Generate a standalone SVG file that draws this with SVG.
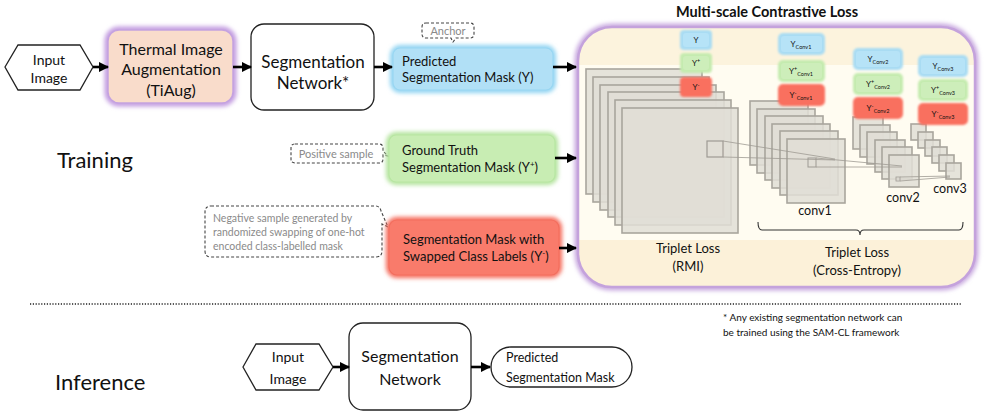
<svg xmlns="http://www.w3.org/2000/svg" width="984" height="413" viewBox="0 0 984 413">
  <style>
    text { font-family: Lato, "Open Sans", "Liberation Sans", sans-serif; fill: #111; }
    .c { text-anchor: middle; }
    .plain { fill: #ffffff; stroke: #222; stroke-width: 1.3; }
    .conn { stroke: #000; stroke-width: 2.6; fill: none; marker-end: url(#ah); }
    .callout { fill: #fff; stroke: #444; stroke-width: 1.1; stroke-dasharray: 3 2; }
    .note { fill: #8a8a8a; }
    .sheet { fill: #e1ded6; fill-opacity: 0.85; stroke: #a9a59d; stroke-width: 1.6; }
    .ray { stroke: #9e9a93; stroke-width: 0.8; fill: none; }
    .tag { font-size: 8px; }
    .sub { font-size: 5.5px; }
  </style>
  <defs>
    <marker id="ah" viewBox="0 0 10 10" refX="9" refY="5" markerWidth="4" markerHeight="4" orient="auto" markerUnits="strokeWidth">
      <path d="M0,0 L10,5 L0,10 z" fill="#000"/>
    </marker>
    <filter id="glow" x="-20%" y="-20%" width="140%" height="140%">
      <feGaussianBlur stdDeviation="2.2"/>
    </filter>
    <filter id="soft" x="-30%" y="-30%" width="160%" height="160%">
      <feGaussianBlur stdDeviation="1.2"/>
    </filter>
    <clipPath id="lossClip">
      <rect x="578" y="27" width="397" height="260" rx="34"/>
    </clipPath>
  </defs>

  <!-- Section labels -->
  <text x="57" y="168" font-size="22">Training</text>
  <text x="55" y="390" font-size="22">Inference</text>

  <!-- Training pipeline -->
  <g id="input-image">
    <polygon class="plain" points="5,67 18,45 80,45 93,67 80,90 18,90"/>
    <text class="c" x="49" y="65" font-size="14">Input</text>
    <text class="c" x="49" y="83" font-size="14">Image</text>
  </g>

  <g id="tiaug">
    <rect x="108" y="30" width="125" height="73" rx="11" fill="none" stroke="#c29be0" stroke-width="7" filter="url(#glow)"/>
    <rect x="108" y="30" width="125" height="73" rx="11" fill="#f9dccb" stroke="#c4a2e0" stroke-width="1.5"/>
    <text class="c" x="171" y="55" font-size="16">Thermal Image</text>
    <text class="c" x="171" y="75" font-size="16">Augmentation</text>
    <text class="c" x="171" y="96" font-size="16">(TiAug)</text>
  </g>

  <g id="seg-net">
    <rect class="plain" x="251" y="24" width="123" height="86" rx="13"/>
    <text class="c" x="313" y="68" font-size="17">Segmentation</text>
    <text class="c" x="313" y="89" font-size="17">Network*</text>
  </g>

  <g id="anchor-note">
    <path class="callout" d="M426,23 H470 Q474,23 474,27 V34 Q474,38 470,38 H456 L453,42 L451,38 H426 Q422,38 422,34 V27 Q422,23 426,23 Z"/>
    <text class="c note" x="448" y="34.5" font-size="11">Anchor</text>
  </g>

  <g id="pred-mask">
    <rect x="393" y="48" width="160" height="42" rx="7" fill="none" stroke="#8ed3f2" stroke-width="6" filter="url(#glow)"/>
    <rect x="393" y="48" width="160" height="42" rx="7" fill="#b1e0f6" stroke="#98d6f2" stroke-width="1.2"/>
    <text x="402" y="66" font-size="13">Predicted</text>
    <text x="402" y="82" font-size="13">Segmentation Mask (Y)</text>
  </g>

  <g id="positive-note">
    <path class="callout" d="M295,144 H379 Q383,144 383,148 V151 L388,156 L383,155 V159 Q383,163 379,163 H295 Q291,163 291,159 V148 Q291,144 295,144 Z"/>
    <text class="c note" x="336" y="157.5" font-size="11">Positive sample</text>
  </g>

  <g id="gt-mask">
    <rect x="389" y="135" width="166" height="47" rx="7" fill="none" stroke="#b2e39b" stroke-width="6" filter="url(#glow)"/>
    <rect x="389" y="135" width="166" height="47" rx="7" fill="#c8edb3" stroke="#b7e6a2" stroke-width="1.2"/>
    <text x="402" y="155" font-size="13">Ground Truth</text>
    <text x="402" y="172" font-size="13">Segmentation Mask (Y<tspan font-size="8" dy="-5">+</tspan><tspan dy="5">)</tspan></text>
  </g>

  <g id="negative-note">
    <path class="callout" d="M211,206 H375 Q380,206 381,211 L388,227 L382,224 V251 Q382,257 376,257 H211 Q205,257 205,251 V212 Q205,206 211,206 Z"/>
    <text class="note" x="213" y="222" font-size="10.5">Negative sample generated by</text>
    <text class="note" x="213" y="236" font-size="10.5">randomized swapping of one-hot</text>
    <text class="note" x="213" y="250" font-size="10.5">encoded class-labelled mask</text>
  </g>

  <g id="swapped-mask">
    <rect x="389" y="220" width="170" height="55" rx="8" fill="none" stroke="#f56a5a" stroke-width="6" filter="url(#glow)"/>
    <rect x="389" y="220" width="170" height="55" rx="8" fill="#f97b6b" stroke="#f36e5e" stroke-width="1.2"/>
    <text x="403" y="244" font-size="13">Segmentation Mask with</text>
    <text x="403" y="261" font-size="13">Swapped Class Labels (Y<tspan font-size="8" dy="-5">-</tspan><tspan dy="5">)</tspan></text>
  </g>

  <!-- Multi-scale contrastive loss panel -->
  <g id="contrastive-loss">
    <text class="c" x="767" y="17" font-size="14.5" font-weight="bold">Multi-scale Contrastive Loss</text>
    <rect x="578" y="27" width="397" height="260" rx="34" fill="none" stroke="#c7a7df" stroke-width="7" filter="url(#glow)"/>
    <g clip-path="url(#lossClip)">
      <rect x="578" y="27" width="397" height="260" fill="#fffcf1"/>
      <rect x="578" y="27" width="397" height="38" fill="#fcf3dd"/>
      <rect x="578" y="240" width="397" height="47" fill="#fcf1d9"/>
    </g>
    <rect x="578" y="27" width="397" height="260" rx="34" fill="none" stroke="#c4a2dc" stroke-width="2.5"/>

    <!-- feature stack: full resolution -->
    <rect class="sheet" x="586" y="69" width="116" height="125"/>
    <rect class="sheet" x="593" y="77" width="116" height="125"/>
    <rect class="sheet" x="600" y="85" width="116" height="125"/>
    <rect class="sheet" x="608" y="92" width="116" height="125"/>
    <rect class="sheet" x="615" y="100" width="116" height="125"/>
    <rect class="sheet" x="622" y="108" width="116" height="125" fill="#ebe8e2"/>
    <rect x="707" y="141" width="16" height="16" fill="none" stroke="#9e9a93" stroke-width="1.2"/>

    <!-- feature stack: conv1 -->
    <rect class="sheet" x="750" y="101" width="58" height="64"/>
    <rect class="sheet" x="757" y="109" width="58" height="64"/>
    <rect class="sheet" x="765" y="116" width="58" height="64"/>
    <rect class="sheet" x="772" y="124" width="58" height="64"/>
    <rect class="sheet" x="780" y="131" width="58" height="64"/>
    <rect class="sheet" x="787" y="139" width="58" height="64" fill="#ebe8e2"/>
    <rect x="808" y="158" width="8" height="9" fill="none" stroke="#9e9a93" stroke-width="1"/>

    <!-- feature stack: conv2 -->
    <rect class="sheet" x="853" y="117" width="30" height="32"/>
    <rect class="sheet" x="860" y="125" width="30" height="32"/>
    <rect class="sheet" x="867" y="132" width="30" height="32"/>
    <rect class="sheet" x="875" y="140" width="30" height="32"/>
    <rect class="sheet" x="882" y="147" width="30" height="32"/>
    <rect class="sheet" x="889" y="155" width="30" height="32" fill="#ebe8e2"/>
    <rect x="896" y="177" width="4" height="4" fill="none" stroke="#9e9a93" stroke-width="0.8"/>

    <!-- feature stack: conv3 -->
    <rect class="sheet" x="911" y="124" width="15" height="16"/>
    <rect class="sheet" x="918" y="132" width="15" height="16"/>
    <rect class="sheet" x="925" y="140" width="15" height="16"/>
    <rect class="sheet" x="932" y="147" width="15" height="16"/>
    <rect class="sheet" x="939" y="155" width="15" height="16"/>
    <rect class="sheet" x="946" y="163" width="15" height="16" fill="#ebe8e2"/>

    <!-- receptive-field rays -->
    <path class="ray" d="M723,141 L835,159 M723,157 L835,160"/>
    <path class="ray" d="M816,158 L902,166 M816,167 L902,167"/>
    <path class="ray" d="M900,177 L950,176 M900,181 L950,177"/>

    <text class="c" x="815" y="215" font-size="12.5">conv1</text>
    <text class="c" x="903" y="202" font-size="12.5">conv2</text>
    <text class="c" x="950" y="193" font-size="12.5">conv3</text>

    <!-- mask triplets per scale -->
    <g filter="url(#soft)">
      <rect x="680" y="30" width="32" height="20" rx="4" fill="#a9dcf3"/>
      <rect x="680" y="53" width="32" height="20" rx="4" fill="#c4ebaf"/>
      <rect x="680" y="77" width="32" height="20" rx="4" fill="#f9705f"/>
      <rect x="778" y="33" width="47" height="22" rx="5" fill="#a9dcf3"/>
      <rect x="778" y="60" width="47" height="22" rx="5" fill="#c4ebaf"/>
      <rect x="778" y="84" width="47" height="22" rx="5" fill="#f9705f"/>
      <rect x="853" y="48" width="50" height="22" rx="5" fill="#a9dcf3"/>
      <rect x="853" y="73" width="50" height="22" rx="5" fill="#c4ebaf"/>
      <rect x="853" y="97" width="50" height="22" rx="5" fill="#f9705f"/>
      <rect x="918" y="55" width="50" height="22" rx="5" fill="#a9dcf3"/>
      <rect x="918" y="79" width="50" height="22" rx="5" fill="#c4ebaf"/>
      <rect x="918" y="103" width="50" height="22" rx="5" fill="#f9705f"/>
    </g>
    <rect x="683" y="33" width="26" height="14" rx="3" fill="#b6e3f7"/>
    <rect x="683" y="56" width="26" height="14" rx="3" fill="#cdeeba"/>
    <rect x="781" y="36" width="41" height="16" rx="3" fill="#b6e3f7"/>
    <rect x="781" y="63" width="41" height="16" rx="3" fill="#cdeeba"/>
    <rect x="856" y="51" width="44" height="16" rx="3" fill="#b6e3f7"/>
    <rect x="856" y="76" width="44" height="16" rx="3" fill="#cdeeba"/>
    <rect x="921" y="58" width="44" height="16" rx="3" fill="#b6e3f7"/>
    <rect x="921" y="82" width="44" height="16" rx="3" fill="#cdeeba"/>

    <text class="c tag" x="696" y="43">Y</text>
    <text class="c tag" x="696" y="66">Y<tspan class="sub" dy="-3">+</tspan></text>
    <text class="c tag" x="696" y="90">Y<tspan class="sub" dy="-3">-</tspan></text>

    <text class="c tag" x="801" y="47">Y<tspan class="sub" dy="1.5">Conv1</tspan></text>
    <text class="c tag" x="801" y="74">Y<tspan class="sub" dy="-3">+</tspan><tspan class="sub" dy="4.5">Conv1</tspan></text>
    <text class="c tag" x="801" y="98">Y<tspan class="sub" dy="-3">-</tspan><tspan class="sub" dy="4.5">Conv1</tspan></text>

    <text class="c tag" x="878" y="62">Y<tspan class="sub" dy="1.5">Conv2</tspan></text>
    <text class="c tag" x="878" y="87">Y<tspan class="sub" dy="-3">+</tspan><tspan class="sub" dy="4.5">Conv2</tspan></text>
    <text class="c tag" x="878" y="111">Y<tspan class="sub" dy="-3">-</tspan><tspan class="sub" dy="4.5">Conv2</tspan></text>

    <text class="c tag" x="943" y="69">Y<tspan class="sub" dy="1.5">Conv3</tspan></text>
    <text class="c tag" x="943" y="93">Y<tspan class="sub" dy="-3">+</tspan><tspan class="sub" dy="4.5">Conv3</tspan></text>
    <text class="c tag" x="943" y="117">Y<tspan class="sub" dy="-3">-</tspan><tspan class="sub" dy="4.5">Conv3</tspan></text>

    <!-- brace over the conv scales -->
    <path d="M758,222 Q758,230 762,230 H856 Q860,230 860,235 Q860,230 864,230 H959 Q963,230 963,222" fill="none" stroke="#333" stroke-width="1.1"/>

    <text class="c" x="688" y="253" font-size="13">Triplet Loss</text>
    <text class="c" x="688" y="271" font-size="13">(RMI)</text>
    <text class="c" x="857" y="257" font-size="13">Triplet Loss</text>
    <text class="c" x="857" y="275" font-size="13">(Cross-Entropy)</text>
  </g>

  <!-- Training connectors -->
  <g id="train-connectors">
    <line class="conn" x1="93" y1="67" x2="108" y2="67"/>
    <line class="conn" x1="233" y1="67" x2="251" y2="67"/>
    <line class="conn" x1="374" y1="67" x2="392" y2="67"/>
    <line class="conn" x1="553" y1="67" x2="576" y2="67"/>
    <line class="conn" x1="555" y1="158" x2="576" y2="158"/>
    <line class="conn" x1="559" y1="248" x2="576" y2="248"/>
  </g>

  <!-- Separator and footnote -->
  <line x1="30" y1="304" x2="962" y2="304" stroke="#222" stroke-width="1.6" stroke-dasharray="1.2 1.6"/>
  <text x="723" y="321" font-size="10">* Any existing segmentation network can</text>
  <text x="723" y="336" font-size="10">be trained using the SAM-CL framework</text>

  <!-- Inference pipeline -->
  <g id="inf-input">
    <polygon class="plain" points="243,367 256,344 319,344 333,367 319,390 256,390"/>
    <text class="c" x="288" y="362" font-size="14">Input</text>
    <text class="c" x="288" y="384" font-size="14">Image</text>
  </g>

  <g id="inf-seg-net">
    <rect class="plain" x="349" y="323" width="122" height="87" rx="14"/>
    <text class="c" x="410" y="362" font-size="16">Segmentation</text>
    <text class="c" x="410" y="385" font-size="16">Network</text>
  </g>

  <g id="inf-pred">
    <rect class="plain" x="491" y="347" width="141" height="40" rx="20"/>
    <text x="506" y="362" font-size="12.5">Predicted</text>
    <text x="506" y="382" font-size="12.5">Segmentation Mask</text>
  </g>

  <g id="inf-connectors">
    <line class="conn" x1="333" y1="367" x2="349" y2="367"/>
    <line class="conn" x1="471" y1="367" x2="490" y2="367"/>
  </g>
</svg>
